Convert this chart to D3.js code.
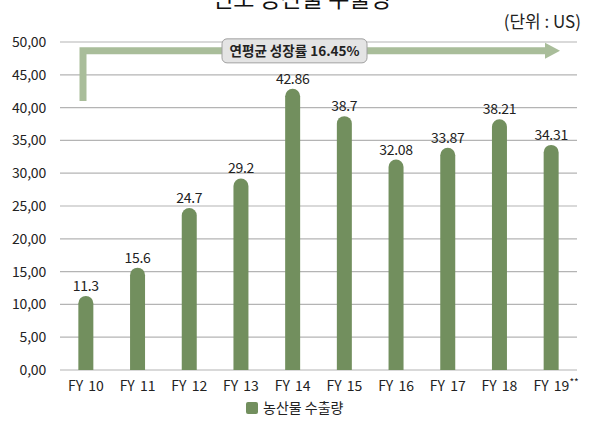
<!doctype html>
<html>
<head>
<meta charset="utf-8">
<title>인도 농산물 수출량</title>
<script src="https://cdn.jsdelivr.net/npm/d3@7"></script>
<style>
  body { margin: 0; background: #fff; }
  text { font-family: "Noto Sans CJK KR", "Noto Sans", sans-serif; }
</style>
</head>
<body>
<script>
// data
var years = ["FY 10", "FY 11", "FY 12", "FY 13", "FY 14", "FY 15", "FY 16", "FY 17", "FY 18", "FY 19"];
var exports = [11.3, 15.6, 24.7, 29.2, 42.86, 38.7, 32.08, 33.87, 38.21, 34.31];
var yTicks = [0, 5, 10, 15, 20, 25, 30, 35, 40, 45, 50];

var w = 595, h = 428;
var m = {left: 60, right: 18, top: 42, bottom: 58};

var svg = d3.select("body").append("svg").attr("width", w).attr("height", h);

var x = d3.scaleBand().domain(years).range([m.left, w - m.right])
  .paddingInner(0.71).paddingOuter(0.355);
var y = d3.scaleLinear().domain([0, 50]).range([h - m.bottom, m.top]);

// gridlines
svg.selectAll("line.grid").data(yTicks).enter().append("line")
  .attr("class", "grid")
  .attr("x1", m.left).attr("x2", w - m.right)
  .attr("y1", function(d){ return y(d); }).attr("y2", function(d){ return y(d); })
  .attr("stroke", "#b4b4b4").attr("stroke-width", 1.2);

// y tick labels
svg.selectAll("text.ytick").data(yTicks).enter().append("text")
  .attr("class", "ytick")
  .attr("x", 46).attr("y", function(d){ return y(d) + 5; })
  .attr("text-anchor", "end").attr("font-size", 14).attr("fill", "#222")
  .attr("letter-spacing", "-0.2")
  .text(function(d){ return d3.format(".2f")(d).replace(".", ","); });

// bars with rounded tops
var bw = x.bandwidth();
svg.selectAll("path.bar").data(exports).enter().append("path")
  .attr("class", "bar")
  .attr("fill", "#728f5e")
  .attr("d", function(d, i){
    var x0 = x(years[i]), x1 = x0 + bw, yb = y(0), yt = y(d), r = bw / 2;
    return "M" + x0 + "," + yb + "L" + x0 + "," + (yt + r) +
      "A" + r + "," + r + " 0 0 1 " + x1 + "," + (yt + r) +
      "L" + x1 + "," + yb + "Z";
  });

// value labels
svg.selectAll("text.val").data(exports).enter().append("text")
  .attr("class", "val")
  .attr("x", function(d, i){ return x(years[i]) + bw / 2; })
  .attr("y", function(d){ return y(d) - 5; })
  .attr("text-anchor", "middle").attr("font-size", 14).attr("fill", "#222")
  .attr("letter-spacing", "-0.3")
  .text(function(d){ return String(d); });

// x labels
svg.selectAll("text.xlab").data(years).enter().append("text")
  .attr("class", "xlab")
  .attr("x", function(d){ return x(d) + bw / 2; })
  .attr("y", h - m.bottom + 21)
  .attr("text-anchor", "middle").attr("font-size", 14).attr("fill", "#222")
  .attr("word-spacing", "2")
  .text(function(d){ return d; })
  .filter(function(d, i){ return i == years.length - 1; })
  .attr("dx", 5)
  .append("tspan").attr("dy", -5).attr("font-size", 10).text("**");

// growth arrow
var ay = y(48.65);
svg.append("path")
  .attr("d", "M83," + y(41) + "L83," + ay + "L545," + ay)
  .attr("fill", "none").attr("stroke", "#a9bd9a").attr("stroke-width", 7);
svg.append("path")
  .attr("d", "M545," + (ay - 8) + "L560," + ay + "L545," + (ay + 8) + "Z")
  .attr("fill", "#a9bd9a");

svg.append("rect")
  .attr("x", 222).attr("y", ay - 12).attr("width", 145).attr("height", 24).attr("rx", 5)
  .attr("fill", "#e4e4e4").attr("stroke", "#a0a0a0").attr("stroke-width", 1);
svg.append("text")
  .attr("x", 294.5).attr("y", ay + 5)
  .attr("text-anchor", "middle").attr("font-size", 13.5).attr("font-weight", "bold").attr("fill", "#222")
  .text("연평균 성장률 16.45%");

// title (cut at top as in the source)
svg.append("text")
  .attr("x", 302).attr("y", 7)
  .attr("text-anchor", "middle").attr("font-size", 23).attr("fill", "#111")
  .text("인도 농산물 수출량");

// unit
svg.append("text")
  .attr("x", 581).attr("y", 28)
  .attr("text-anchor", "end").attr("font-size", 17).attr("fill", "#222")
  .text("(단위 : US)");

// legend
svg.append("rect").attr("x", 246).attr("y", 402).attr("width", 12).attr("height", 12).attr("rx", 2)
  .attr("fill", "#728f5e");
svg.append("text").attr("x", 263).attr("y", 413)
  .attr("font-size", 14).attr("fill", "#222").text("농산물 수출량");
</script>
</body>
</html>
